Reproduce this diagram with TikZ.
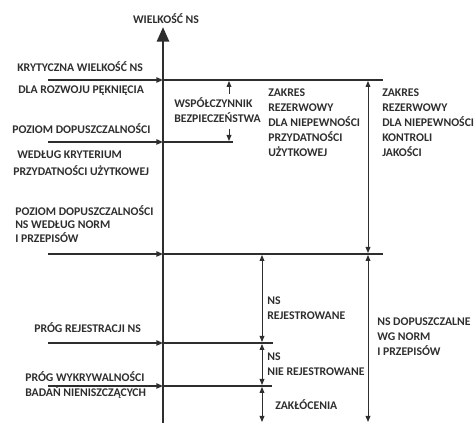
\documentclass[tikz,border=0pt]{standalone}
\usepackage{fontspec}
\setmainfont{Carlito}[BoldFont={Carlito Bold}]
\usetikzlibrary{arrows.meta, calc}
\definecolor{ink}{HTML}{2E2E2E}

\begin{document}
\begin{tikzpicture}[x=0.75pt, y=-0.75pt,
    >={Triangle[length=4.5pt, width=3.6pt]},
    lbl/.style={font=\fontsize{8.8}{11.25}\selectfont\bfseries, text=ink, inner sep=0pt, anchor=base west, align=left},
    feed/.style={line width=1pt, draw=ink, -{Triangle[length=5pt, width=4pt]}},
    level/.style={line width=1.6pt, draw=ink},
    span/.style={line width=0.7pt, draw=ink, <->}]
        \useasboundingbox (0,0) rectangle (475,423);

        % levels on the axis
        \coordinate (top) at (163,27);
        \coordinate (bot) at (163,423);
        \coordinate (kryt) at (163,80);
        \coordinate (przyd) at (163,142);
        \coordinate (norm) at (163,254);
        \coordinate (rej) at (163,343);
        \coordinate (wykr) at (163,386);

        % axis
        \draw[line width=2.2pt, draw=ink, -{Triangle[length=11pt, width=9pt]}] (bot) -- (top);
        \node[lbl, anchor=base] (oś) at (166,23.5) {WIELKOŚĆ NS};

        % arrows from the left
        \foreach \lv in {kryt,przyd,norm,rej,wykr}
            \draw[feed] ($(\lv)+(-115,0)$) coordinate (\lv-in) -- (\lv);

        % level lines
        \draw[level] (kryt) -- ++(220,0) coordinate (kryt-end);
        \draw[level] (przyd) -- ++(70,0) coordinate (przyd-end);
        \draw[level] (norm) -- ++(220,0) coordinate (norm-end);
        \draw[level] (rej) -- ++(110,0) coordinate (rej-end);
        \draw[level] (wykr) -- ++(109,0) coordinate (wykr-end);

        % left labels
        \node[lbl] (kryt-a) at (17,71.5) {KRYTYCZNA WIELKOŚĆ NS};
        \node[lbl] (kryt-b) at (18,93.5) {DLA ROZWOJU PĘKNIĘCIA};
        \node[lbl] (przyd-a) at (12,133.5) {POZIOM DOPUSZCZALNOŚCI};
        \node[lbl] (przyd-b) at (17,158.5) {WEDŁUG KRYTERIUM};
        \node[lbl] (przyd-c) at (13,175.5) {PRZYDATNOŚCI UŻYTKOWEJ};
        \node[lbl] (norm-a) at (15,215.5) {POZIOM DOPUSZCZALNOŚCI};
        \node[lbl] (norm-b) at (15,229) {NS WEDŁUG NORM};
        \node[lbl] (norm-c) at (15,242.5) {I PRZEPISÓW};
        \node[lbl] (rej-a) at (34,332.5) {PRÓG REJESTRACJI NS};
        \node[lbl] (wykr-a) at (25,381.5) {PRÓG WYKRYWALNOŚCI};
        \node[lbl] (wykr-b) at (25,396.5) {BADAŃ NIENISZCZĄCYCH};

        % safety factor
        \draw[span, <-] ($(kryt)+(66,1)$) -- ++(0,13);
        \draw[span, ->] ($(przyd)+(66,-13)$) -- ++(0,12);
        \node[lbl] (wsp-a) at (174,107.5) {WSPÓŁCZYNNIK};
        \node[lbl] (wsp-b) at (174,123) {BEZPIECZEŃSTWA};

        % reserve ranges (base = last line)
        \node[lbl] (rez1) at (268,156.5) {ZAKRES\\REZERWOWY\\DLA NIEPEWNOŚCI\\PRZYDATNOŚCI\\UŻYTKOWEJ};
        \draw[span] ($(kryt)+(205,1)$) -- ($(norm)+(205,-1)$);
        \node[lbl] (rez2) at (382,156.5) {ZAKRES\\REZERWOWY\\DLA NIEPEWNOŚCI\\KONTROLI\\JAKOŚCI};

        % NS ranges
        \draw[span] ($(norm)+(99,1)$) -- ($(rej)+(99,-1)$);
        \node[lbl] (ns-rej) at (267,319.5) {NS\\REJESTROWANE};
        \draw[span] ($(rej)+(99,1)$) -- ($(wykr)+(99,-1)$);
        \node[lbl] (ns-nrej) at (267,375.5) {NS\\NIE REJESTROWANE};
        \draw[span] ($(wykr)+(99,1)$) -- ($(bot)+(99,-1)$);
        \node[lbl] (zakl) at (275,409.5) {ZAKŁÓCENIA};
        \draw[span] ($(norm)+(205,1)$) -- ($(bot)+(205,-1)$);
        \node[lbl] (ns-dop) at (377,355.5) {NS DOPUSZCZALNE\\WG NORM\\I PRZEPISÓW};

    \end{tikzpicture}
\end{document}
